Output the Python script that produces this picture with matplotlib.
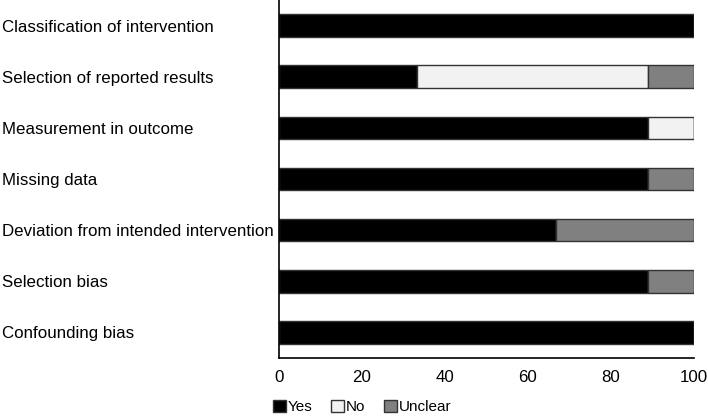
import matplotlib
matplotlib.use("Agg")
import matplotlib.pyplot as plt
import numpy as np

# 数据（自上而下）
domains = [
    "Classification of intervention",
    "Selection of reported results",
    "Measurement in outcome",
    "Missing data",
    "Deviation from intended intervention",
    "Selection bias",
    "Confounding bias",
]
yes_pct = [100.0, 33.3, 88.9, 88.9, 66.7, 88.9, 100.0]
no_pct = [0.0, 55.6, 11.1, 0.0, 0.0, 0.0, 0.0]
unclear_pct = [0.0, 11.1, 0.0, 11.1, 33.3, 11.1, 0.0]
series_names = ["Yes", "No", "Unclear"]
x_ticks = [0, 20, 40, 60, 80, 100]

colors = ["#000000", "#f2f2f2", "#808080"]

plt.rcParams["font.family"] = ["Liberation Sans", "DejaVu Sans"]

fig = plt.figure(figsize=(7.08, 4.2), dpi=100)
ax = fig.add_axes([279 / 708, 1 - 358 / 420, (694 - 279) / 708, 358 / 420])

y = np.arange(len(domains))
left = np.zeros(len(domains))
for name, vals, c in zip(series_names, [yes_pct, no_pct, unclear_pct], colors):
    vals = np.array(vals)
    ax.barh(y, vals, left=left, height=0.44, color=c, edgecolor="#333333",
            linewidth=1.0, label=name)
    left += vals

ax.set_ylim(len(domains) - 0.5, -0.5)
ax.set_xlim(0, 100)
ax.set_xticks(x_ticks)
ax.set_yticks(y)
ax.set_yticklabels(domains, fontsize=12.2)
for lbl in ax.get_yticklabels():
    lbl.set_horizontalalignment("left")
ax.tick_params(axis="y", length=0, pad=277 * 0.72)
ax.tick_params(axis="x", length=0, pad=9, labelsize=12.2)

for s in ["top", "right"]:
    ax.spines[s].set_visible(False)
ax.spines["left"].set_linewidth(1.2)
ax.spines["bottom"].set_linewidth(1.2)

fig.legend(loc="center left", bbox_to_anchor=(267 / 708, 1 - 407 / 420),
           ncol=3, frameon=False, fontsize=11, handlelength=0.85,
           handleheight=0.85, handletextpad=0.13, columnspacing=1.2,
           borderaxespad=0)

fig.savefig("out.png", dpi=100)
plt.close(fig)
